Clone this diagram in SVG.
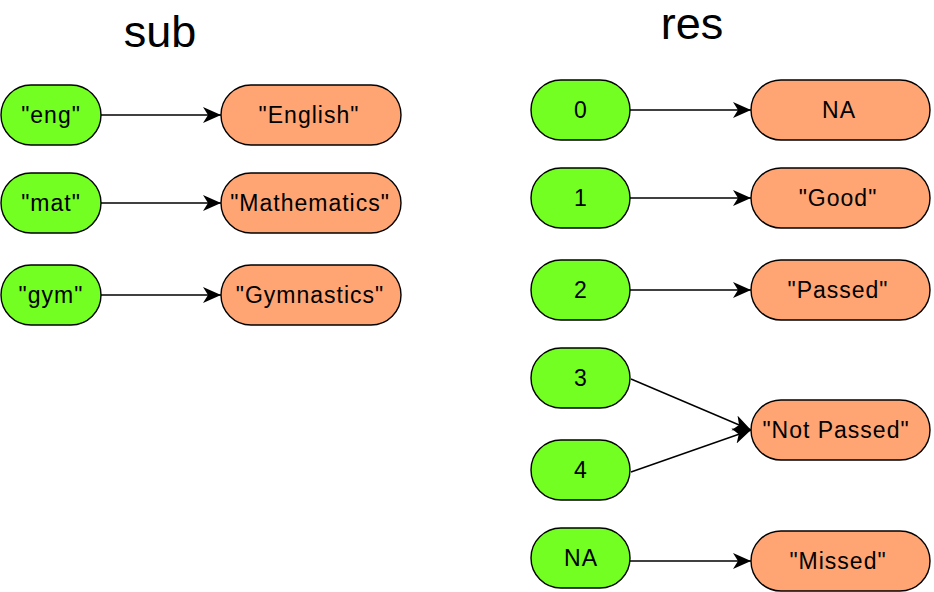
<svg xmlns="http://www.w3.org/2000/svg" width="934" height="592" viewBox="0 0 934 592">
  <style>
    .key { fill: #73FF22; stroke: #000; stroke-width: 1.4; }
    .val { fill: #FFA574; stroke: #000; stroke-width: 1.4; }
    .lbl { font-family: "Liberation Sans", Arial, sans-serif; font-size: 23px; fill: #000; text-anchor: middle; letter-spacing: 1px; }
    .title { font-family: "Liberation Sans", Arial, sans-serif; font-size: 45px; fill: #000; text-anchor: middle; }
    .edge { stroke: #000; stroke-width: 1.4; fill: none; marker-end: url(#arrow); }
  </style>
  <defs>
    <marker id="arrow" markerUnits="userSpaceOnUse" markerWidth="20" markerHeight="18" refX="18" refY="8" orient="auto">
      <path d="M0,0 L18,8 L0,16 L5,8 Z" fill="#000"/>
    </marker>
  </defs>
  <rect width="934" height="592" fill="#fff"/>

  <text class="title" x="160" y="47">sub</text>
  <text class="title" x="692" y="39">res</text>

  <!-- sub: keys -->
  <g id="sub-eng"><rect class="key" x="1" y="85" width="100" height="60" rx="30"/><text class="lbl" x="51" y="123">"eng"</text></g>
  <g id="sub-mat"><rect class="key" x="1" y="173" width="100" height="60" rx="30"/><text class="lbl" x="51" y="211">"mat"</text></g>
  <g id="sub-gym"><rect class="key" x="1" y="265" width="100" height="60" rx="30"/><text class="lbl" x="51" y="303">"gym"</text></g>
  <!-- sub: values -->
  <g id="sub-english"><rect class="val" x="221" y="85" width="180" height="60" rx="30"/><text class="lbl" x="309" y="123">"English"</text></g>
  <g id="sub-mathematics"><rect class="val" x="221" y="173" width="180" height="60" rx="30"/><text class="lbl" x="310" y="211">"Mathematics"</text></g>
  <g id="sub-gymnastics"><rect class="val" x="221" y="265" width="180" height="60" rx="30"/><text class="lbl" x="310" y="303">"Gymnastics"</text></g>

  <!-- res: keys -->
  <g id="res-0"><rect class="key" x="531" y="80" width="99" height="60" rx="30"/><text class="lbl" x="581" y="118">0</text></g>
  <g id="res-1"><rect class="key" x="531" y="168" width="99" height="60" rx="30"/><text class="lbl" x="581" y="206">1</text></g>
  <g id="res-2"><rect class="key" x="531" y="260" width="99" height="60" rx="30"/><text class="lbl" x="581" y="298">2</text></g>
  <g id="res-3"><rect class="key" x="531" y="348" width="99" height="60" rx="30"/><text class="lbl" x="581" y="386">3</text></g>
  <g id="res-4"><rect class="key" x="531" y="440" width="99" height="60" rx="30"/><text class="lbl" x="581" y="478">4</text></g>
  <g id="res-na"><rect class="key" x="531" y="528" width="99" height="60" rx="30"/><text class="lbl" x="581" y="566">NA</text></g>
  <!-- res: values -->
  <g id="res-v-na"><rect class="val" x="751" y="80" width="179" height="60" rx="30"/><text class="lbl" x="839" y="118">NA</text></g>
  <g id="res-good"><rect class="val" x="751" y="168" width="179" height="60" rx="30"/><text class="lbl" x="838" y="206">"Good"</text></g>
  <g id="res-passed"><rect class="val" x="751" y="260" width="179" height="60" rx="30"/><text class="lbl" x="838" y="298">"Passed"</text></g>
  <g id="res-notpassed"><rect class="val" x="751" y="400" width="179" height="60" rx="30"/><text class="lbl" x="836" y="438">"Not Passed"</text></g>
  <g id="res-missed"><rect class="val" x="751" y="531" width="179" height="60" rx="30"/><text class="lbl" x="838" y="569">"Missed"</text></g>

  <g id="connectors">
    <line class="edge" x1="101" y1="115" x2="221" y2="115"/>
    <line class="edge" x1="101" y1="203" x2="221" y2="203"/>
    <line class="edge" x1="101" y1="295" x2="221" y2="295"/>
    <line class="edge" x1="630" y1="110" x2="751" y2="110"/>
    <line class="edge" x1="630" y1="198" x2="751" y2="198"/>
    <line class="edge" x1="630" y1="290" x2="751" y2="290"/>
    <line class="edge" x1="631" y1="379" x2="751" y2="430"/>
    <line class="edge" x1="631" y1="472" x2="751" y2="430"/>
    <line class="edge" x1="630" y1="561" x2="751" y2="561"/>
  </g>
</svg>
